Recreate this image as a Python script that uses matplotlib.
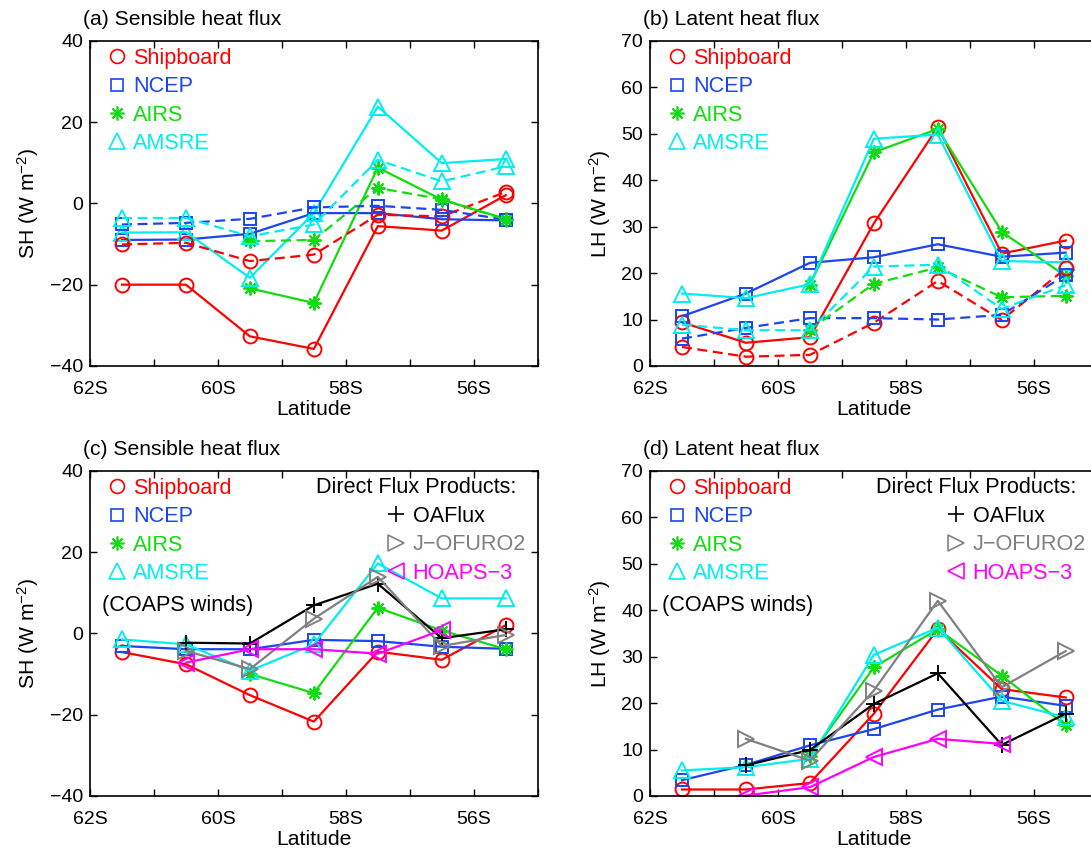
import numpy as np
import matplotlib

matplotlib.use("Agg")
import matplotlib.pyplot as plt  # noqa: E402
from matplotlib.lines import Line2D  # noqa: E402

nan = np.nan

# latitude bin centres (deg, negative = south)
lat = [-61.5, -60.5, -59.5, -58.5, -57.5, -56.5, -55.5]
xtick_vals = [-62, -61, -60, -59, -58, -57, -56, -55]
xtick_labels = ["62S", "", "60S", "", "58S", "", "56S", ""]

# (a) sensible heat flux, solid and dashed estimates
sh_ship_a = [-20.0, -20.0, -32.7, -35.8, -5.6, -6.7, 2.0]
sh_ship_a_dash = [-10.1, -9.7, -14.2, -12.6, -2.8, -3.2, 2.8]
sh_ncep_a = [-9.0, -8.9, -7.5, -2.4, -2.4, -3.9, -4.2]
sh_ncep_a_dash = [-5.2, -4.8, -3.8, -1.0, -0.6, -1.6, -4.0]
sh_airs_a = [nan, nan, -20.9, -24.5, 8.8, 0.9, -3.8]
sh_airs_a_dash = [nan, nan, -9.3, -9.0, 3.8, 1.0, -4.0]
sh_amsre_a = [-7.2, -7.1, -18.3, -2.4, 23.8, 9.9, 10.9]
sh_amsre_a_dash = [-3.6, -3.6, -8.1, -5.2, 10.7, 5.4, 9.1]

# (b) latent heat flux
lh_ship_b = [9.4, 5.0, 6.2, 30.7, 51.4, 24.2, 27.0]
lh_ship_b_dash = [4.1, 2.0, 2.4, 9.3, 18.3, 9.9, 21.0]
lh_ncep_b = [10.7, 15.6, 22.2, 23.4, 26.2, 23.5, 24.4]
lh_ncep_b_dash = [5.9, 8.2, 10.3, 10.3, 10.0, 11.0, 19.6]
lh_airs_b = [nan, nan, 17.5, 46.0, 51.0, 28.9, 19.3]
lh_airs_b_dash = [nan, nan, 7.8, 17.7, 21.2, 14.8, 15.1]
lh_amsre_b = [15.6, 14.6, 17.6, 48.9, 49.8, 22.6, 22.3]
lh_amsre_b_dash = [8.9, 7.7, 7.7, 21.4, 21.8, 12.3, 17.4]

# (c) sensible heat flux, COAPS winds + direct flux products
sh_ship_c = [-4.6, -7.6, -15.2, -21.7, -4.5, -6.5, 2.0]
sh_ncep_c = [-3.1, -3.9, -3.9, -1.6, -1.9, -3.3, -3.8]
sh_airs_c = [nan, nan, -10.0, -14.7, 6.3, 0.7, -3.9]
sh_amsre_c = [-1.5, -2.7, -9.2, -2.7, 17.2, 8.6, 8.6]
sh_oaflux_c = [nan, -2.3, -2.5, 6.9, 12.2, -1.2, 1.0]
sh_jofuro_c = [nan, -4.3, -8.8, 3.6, 13.9, -3.1, -0.4]
sh_hoaps_c = [nan, -7.2, -3.9, -3.9, -5.0, 0.8, nan]

# (d) latent heat flux, COAPS winds + direct flux products
lh_ship_d = [1.4, 1.4, 2.8, 17.7, 35.9, 23.0, 21.2]
lh_ncep_d = [3.4, 6.7, 10.9, 14.4, 18.6, 21.4, 19.4]
lh_airs_d = [nan, nan, 8.5, 27.7, 35.9, 25.9, 15.2]
lh_amsre_d = [5.5, 6.2, 8.0, 30.4, 36.2, 20.5, 16.9]
lh_oaflux_d = [nan, 6.6, 9.9, 19.8, 26.4, 11.0, 17.7]
lh_jofuro_d = [nan, 12.3, 7.6, 22.7, 42.0, 23.4, 31.2]
lh_hoaps_d = [nan, 0.1, 1.9, 8.4, 12.3, 11.2, nan]

RED, BLUE, GREEN, CYAN = "#ff0000", "#1a45f0", "#10dd10", "#00eeee"
BLACK, GRAY, MAGENTA = "#000000", "#808080", "#ff00ff"
STAR = (8, 2, 0)

STYLE = {
    "Shipboard": (RED, "o", 10),
    "NCEP": (BLUE, "s", 8),
    "AIRS": (GREEN, STAR, 10),
    "AMSRE": (CYAN, "^", 11),
    "OAFlux": (BLACK, "+", 11),
    "J\u2212OFURO2": (GRAY, ">", 11),
    "HOAPS\u22123": (MAGENTA, "<", 11),
}

TEXT_FS = 15.2
LEG_FS = 15.6

plt.rcParams["font.family"] = ["Liberation Sans", "DejaVu Sans"]
plt.rcParams["font.size"] = 14
plt.rcParams["mathtext.fontset"] = "custom"
plt.rcParams["mathtext.rm"] = "Liberation Sans"
plt.rcParams["mathtext.it"] = "Liberation Sans:italic"


def draw(ax, name, values, dashed=False):
    color, marker, size = STYLE[name]
    line, = ax.plot(lat, values, color=color, lw=1.6, marker=marker, ms=size,
                    mfc="none", mew=1.4)
    if dashed:
        line.set_dashes((4.5, 2.5))


def handle(name):
    color, marker, size = STYLE[name]
    return Line2D([], [], ls="none", color=color, marker=marker, ms=size,
                  mfc="none", mew=1.2, label=name)


def legend(ax, names, loc, anchor):
    return ax.legend(handles=[handle(n) for n in names], loc=loc,
                     bbox_to_anchor=anchor, frameon=False, fontsize=LEG_FS,
                     borderaxespad=0, borderpad=0, handlelength=1.0,
                     handletextpad=0.25, labelspacing=0.34, labelcolor="linecolor")


def setup(ax, ylim, yticks, ylabel, title):
    ax.set_xlim(-62, -55)
    ax.set_ylim(*ylim)
    ax.set_xticks(xtick_vals)
    ax.set_xticklabels(xtick_labels)
    ax.set_yticks(yticks)
    ax.tick_params(direction="in", length=5, width=1, top=True, right=True)
    ax.tick_params(axis="x", pad=11)
    ax.tick_params(axis="y", pad=5)
    for spine in ax.spines.values():
        spine.set_linewidth(1.2)
    ax.set_xlabel("Latitude", labelpad=1, fontsize=TEXT_FS)
    ax.set_ylabel(ylabel, labelpad=6, fontsize=TEXT_FS)
    ax.text(-0.016, 1.035, title, transform=ax.transAxes, ha="left", va="bottom",
            fontsize=TEXT_FS)
    return legend(ax, ["Shipboard", "NCEP", "AIRS", "AMSRE"], "upper left", (0.036, 0.978))


def direct_legend(ax, first):
    ax.add_artist(first)
    legend(ax, ["OAFlux", "J\u2212OFURO2", "HOAPS\u22123"], "upper right", (0.974, 0.892))
    ax.text(0.9515, 0.948, "Direct Flux Products:", transform=ax.transAxes,
            ha="right", va="center", fontsize=LEG_FS)
    ax.text(0.027, 0.585, "(COAPS winds)", transform=ax.transAxes, ha="left",
            va="center", fontsize=LEG_FS)


fig = plt.figure(figsize=(10.91, 8.52), dpi=100)
W, H = 1091, 852
ax_a = fig.add_axes([90 / W, (852 - 366) / H, 447.7 / W, 325.3 / H])
ax_b = fig.add_axes([650 / W, (852 - 366) / H, 447.7 / W, 325.3 / H])
ax_c = fig.add_axes([90 / W, (852 - 796) / H, 447.7 / W, 325.3 / H])
ax_d = fig.add_axes([650 / W, (852 - 796) / H, 447.7 / W, 325.3 / H])

sh_label = "SH (W m$^{-2}$)"
lh_label = "LH (W m$^{-2}$)"

# (a)
draw(ax_a, "Shipboard", sh_ship_a)
draw(ax_a, "NCEP", sh_ncep_a)
draw(ax_a, "AIRS", sh_airs_a)
draw(ax_a, "AMSRE", sh_amsre_a)
draw(ax_a, "Shipboard", sh_ship_a_dash, dashed=True)
draw(ax_a, "NCEP", sh_ncep_a_dash, dashed=True)
draw(ax_a, "AIRS", sh_airs_a_dash, dashed=True)
draw(ax_a, "AMSRE", sh_amsre_a_dash, dashed=True)
setup(ax_a, (-40, 40), [-40, -20, 0, 20, 40], sh_label, "(a) Sensible heat flux")

# (b)
draw(ax_b, "Shipboard", lh_ship_b)
draw(ax_b, "NCEP", lh_ncep_b)
draw(ax_b, "AIRS", lh_airs_b)
draw(ax_b, "AMSRE", lh_amsre_b)
draw(ax_b, "Shipboard", lh_ship_b_dash, dashed=True)
draw(ax_b, "NCEP", lh_ncep_b_dash, dashed=True)
draw(ax_b, "AIRS", lh_airs_b_dash, dashed=True)
draw(ax_b, "AMSRE", lh_amsre_b_dash, dashed=True)
setup(ax_b, (0, 70), range(0, 71, 10), lh_label, "(b) Latent heat flux")

# (c)
draw(ax_c, "Shipboard", sh_ship_c)
draw(ax_c, "NCEP", sh_ncep_c)
draw(ax_c, "AIRS", sh_airs_c)
draw(ax_c, "AMSRE", sh_amsre_c)
draw(ax_c, "OAFlux", sh_oaflux_c)
draw(ax_c, "J\u2212OFURO2", sh_jofuro_c)
draw(ax_c, "HOAPS\u22123", sh_hoaps_c)
leg_c = setup(ax_c, (-40, 40), [-40, -20, 0, 20, 40], sh_label, "(c) Sensible heat flux")
direct_legend(ax_c, leg_c)

# (d)
draw(ax_d, "Shipboard", lh_ship_d)
draw(ax_d, "NCEP", lh_ncep_d)
draw(ax_d, "AIRS", lh_airs_d)
draw(ax_d, "AMSRE", lh_amsre_d)
draw(ax_d, "OAFlux", lh_oaflux_d)
draw(ax_d, "J\u2212OFURO2", lh_jofuro_d)
draw(ax_d, "HOAPS\u22123", lh_hoaps_d)
leg_d = setup(ax_d, (0, 70), range(0, 71, 10), lh_label, "(d) Latent heat flux")
direct_legend(ax_d, leg_d)

fig.savefig("out.png", dpi=100)
